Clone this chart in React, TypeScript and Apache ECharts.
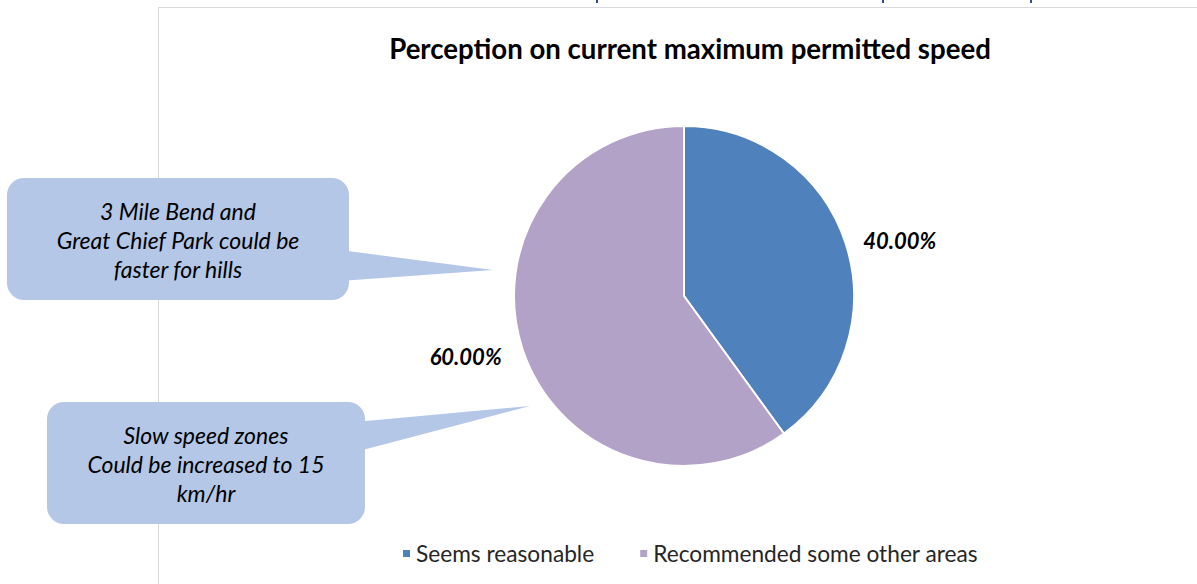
import React, { useEffect, useRef } from "react";
import * as echarts from "echarts";

const titleText = "Perception on current maximum permitted speed";
const categories = ["Seems reasonable", "Recommended some other areas"];
const values = [40, 60];
const sliceColors = ["#4F81BD", "#B3A2C7"];
const callout1Lines = ["3 Mile Bend and", "Great Chief Park could be", "faster for hills"];
const callout2Lines = ["Slow speed zones", "Could be increased to 15", "km/hr"];

const FONT = "Lato, 'Open Sans', sans-serif";
const CALLOUT_FILL = "#B4C7E7";

export default function App() {
  const ref = useRef<HTMLDivElement>(null);
  useEffect(() => {
    document.body.style.margin = "0";
    const chart = echarts.init(ref.current!, null, { renderer: "svg" });
    const labelCfg = [
      { len: 11, len2: 2, dist: 5 },
      { len: 27, len2: 0, dist: -5 },
    ];
    chart.setOption({
      animation: false,
      backgroundColor: "#ffffff",
      title: {
        text: titleText,
        left: 685,
        textAlign: "center",
        top: 29,
        textStyle: { fontFamily: FONT, fontSize: 27.6, fontWeight: "bold", color: "#000000" },
      },
      legend: {
        data: categories,
        left: 396,
        top: 537,
        icon: "rect",
        itemWidth: 9,
        itemHeight: 9,
        itemGap: 44,
        textStyle: { fontFamily: FONT, fontSize: 22.7, color: "#262626" },
      },
      graphic: [
        { type: "line", shape: { x1: 158.5, y1: 7.5, x2: 158.5, y2: 584 }, style: { stroke: "#D9D9D9", lineWidth: 1 } },
        { type: "line", shape: { x1: 158.5, y1: 7.5, x2: 1197, y2: 7.5 }, style: { stroke: "#D9D9D9", lineWidth: 1 } },
        { type: "rect", shape: { x: 596, y: 0, width: 2, height: 3 }, style: { fill: "#2F4F8F" } },
        { type: "rect", shape: { x: 882, y: 0, width: 2, height: 3 }, style: { fill: "#2F4F8F" } },
        { type: "rect", shape: { x: 1030, y: 0, width: 2, height: 3 }, style: { fill: "#2F4F8F" } },
        // callout 1
        { type: "polygon", shape: { points: [[340, 250], [493, 270], [340, 281]] }, style: { fill: CALLOUT_FILL } },
        { type: "rect", shape: { x: 7, y: 178, width: 342, height: 122, r: 17 }, style: { fill: CALLOUT_FILL } },
        ...callout1Lines.map((t, i) => ({
          type: "text",
          x: 178,
          y: 211 + i * 29,
          style: { text: t, fill: "#000000", font: `italic 23px ${FONT}`, align: "center", verticalAlign: "middle" },
        })),
        // callout 2
        { type: "polygon", shape: { points: [[355, 422], [530, 406], [355, 452]] }, style: { fill: CALLOUT_FILL } },
        { type: "rect", shape: { x: 47, y: 402, width: 318, height: 122, r: 17 }, style: { fill: CALLOUT_FILL } },
        ...callout2Lines.map((t, i) => ({
          type: "text",
          x: 206,
          y: 435 + i * 29,
          style: { text: t, fill: "#000000", font: `italic 23px ${FONT}`, align: "center", verticalAlign: "middle" },
        })),
      ],
      series: [
        {
          type: "pie",
          center: [684, 296],
          radius: 170,
          startAngle: 90,
          clockwise: true,
          itemStyle: { borderColor: "#ffffff", borderWidth: 2 },
          emphasis: { disabled: true },
          data: categories.map((name, i) => ({
            name,
            value: values[i],
            itemStyle: { color: sliceColors[i] },
            label: { distanceToLabelLine: labelCfg[i].dist },
            labelLine: { show: false, length: labelCfg[i].len, length2: labelCfg[i].len2 },
          })),
          label: {
            show: true,
            position: "outside",
            formatter: (p: any) => `${Number(p.value).toFixed(2)}%`,
            fontFamily: FONT,
            fontSize: 22,
            fontWeight: "bold",
            fontStyle: "italic",
            color: "#000000",
          },
          labelLine: { show: false },
        },
      ],
    });
    return () => chart.dispose();
  }, []);
  return <div ref={ref} style={{ width: 1197, height: 584, position: "absolute", left: 0, top: 0 }} />;
}
